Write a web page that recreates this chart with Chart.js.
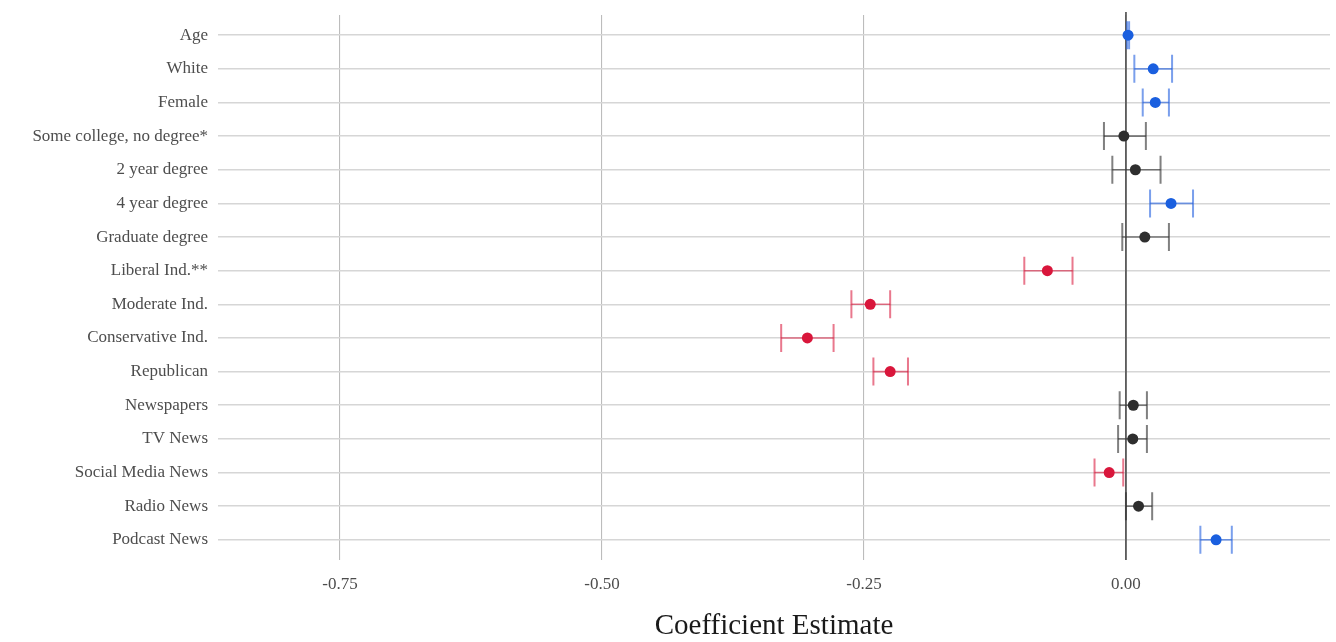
<!DOCTYPE html>
<html>
<head>
<meta charset="utf-8">
<script src="https://cdn.jsdelivr.net/npm/chart.js@4.4.1/dist/chart.umd.min.js"></script>
<style>
  html, body { margin: 0; padding: 0; background: #ffffff; }
  #wrap { width: 1336px; height: 642px; position: relative; }
</style>
</head>
<body>
<div id="wrap"><canvas id="coefPlot"></canvas></div>
<script>
// Model terms, top to bottom
const terms = [
  'Age', 'White', 'Female', 'Some college, no degree*', '2 year degree',
  '4 year degree', 'Graduate degree', 'Liberal Ind.**', 'Moderate Ind.',
  'Conservative Ind.', 'Republican', 'Newspapers', 'TV News',
  'Social Media News', 'Radio News', 'Podcast News'
];

// Point estimates and 95% confidence bounds
const estimate = [0.002, 0.026, 0.028, -0.002, 0.009, 0.043, 0.018, -0.075, -0.244, -0.304, -0.225, 0.007, 0.0065, -0.016, 0.012, 0.086];
const lower    = [0.001, 0.008, 0.016, -0.021, -0.013, 0.023, -0.0035, -0.097, -0.262, -0.329, -0.241, -0.006, -0.0075, -0.030, 0.000, 0.071];
const upper    = [0.003, 0.044, 0.041, 0.019, 0.033, 0.064, 0.041, -0.051, -0.225, -0.279, -0.208, 0.020, 0.020, -0.0026, 0.025, 0.101];

// Significance direction: 'pos', 'neg' or 'ns'
const effect = ['pos', 'pos', 'pos', 'ns', 'ns', 'pos', 'ns', 'neg', 'neg', 'neg', 'neg', 'ns', 'ns', 'neg', 'ns', 'pos'];

// X axis ticks
const xTicks = [-0.75, -0.50, -0.25, 0.00];
const xTickLabels = ['-0.75', '-0.50', '-0.25', '0.00'];

const pointColor = { pos: '#1a5fdf', neg: '#d9163b', ns: '#2e2e2e' };
const barColor   = { pos: 'rgba(40,100,225,0.62)', neg: 'rgba(217,22,59,0.58)', ns: 'rgba(50,50,50,0.62)' };

const SERIF = "'Liberation Serif', 'DejaVu Serif', serif";

// Zero reference line, drawn under the points
const zeroLine = {
  id: 'zeroLine',
  beforeDatasetsDraw(chart) {
    const { ctx, chartArea, scales } = chart;
    const x = scales.x.getPixelForValue(0);
    ctx.save();
    ctx.strokeStyle = '#4a4a4a';
    ctx.lineWidth = 1.6;
    ctx.beginPath();
    ctx.moveTo(x, chartArea.top - 3);
    ctx.lineTo(x, chartArea.bottom);
    ctx.stroke();
    ctx.restore();
  }
};

// Horizontal error bars with end caps
const errorBars = {
  id: 'errorBars',
  beforeDatasetsDraw(chart) {
    const { ctx, scales } = chart;
    ctx.save();
    terms.forEach((t, i) => {
      const y = scales.y.getPixelForValue(i);
      const x0 = scales.x.getPixelForValue(lower[i]);
      const x1 = scales.x.getPixelForValue(upper[i]);
      ctx.strokeStyle = barColor[effect[i]];
      ctx.lineWidth = 1.6;
      ctx.beginPath();
      ctx.moveTo(x0, y); ctx.lineTo(x1, y);
      ctx.stroke();
      ctx.lineWidth = 2;
      ctx.beginPath();
      ctx.moveTo(x0, y - 14); ctx.lineTo(x0, y + 14);
      ctx.moveTo(x1, y - 14); ctx.lineTo(x1, y + 14);
      ctx.stroke();
    });
    ctx.restore();
  }
};

new Chart(document.getElementById('coefPlot'), {
  type: 'scatter',
  data: {
    datasets: [{
      data: estimate.map((v, i) => ({ x: v, y: i })),
      pointRadius: 5.5,
      pointHoverRadius: 5.5,
      pointBorderWidth: 0,
      pointBackgroundColor: effect.map(e => pointColor[e]),
      pointBorderColor: effect.map(e => pointColor[e])
    }]
  },
  options: {
    responsive: true,
    maintainAspectRatio: false,
    animation: false,
    layout: { padding: { top: 15, right: 6, left: 0, bottom: 0 } },
    plugins: { legend: { display: false }, tooltip: { enabled: false } },
    scales: {
      x: {
        type: 'linear',
        min: -0.8664,
        max: 0.1947,
        afterBuildTicks(scale) { scale.ticks = xTicks.map(v => ({ value: v })); },
        afterFit(scale) { scale.height = 82; scale.paddingLeft = 0; scale.paddingRight = 0; },
        border: { display: false },
        grid: { color: '#bcbcbc', lineWidth: 1.1, drawTicks: false },
        ticks: {
          padding: 14,
          color: '#4d4d4d',
          font: { family: SERIF, size: 17 },
          callback: (v, idx) => xTickLabels[idx]
        },
        title: {
          display: true,
          text: 'Coefficient Estimate',
          color: '#1a1a1a',
          font: { family: SERIF, size: 29 },
          padding: { top: 0, bottom: -2 }
        }
      },
      y: {
        type: 'linear',
        reverse: true,
        min: -0.6,
        max: terms.length - 1 + 0.6,
        afterBuildTicks(scale) { scale.ticks = terms.map((t, i) => ({ value: i })); },
        afterFit(scale) { scale.width = 218; scale.paddingTop = 0; scale.paddingBottom = 0; },
        border: { display: false },
        grid: { color: '#d6d6d6', lineWidth: 1.6, drawTicks: false },
        ticks: {
          padding: 10,
          color: '#4d4d4d',
          font: { family: SERIF, size: 17 },
          callback: (v) => terms[v]
        }
      }
    }
  },
  plugins: [zeroLine, errorBars]
});
</script>
</body>
</html>
